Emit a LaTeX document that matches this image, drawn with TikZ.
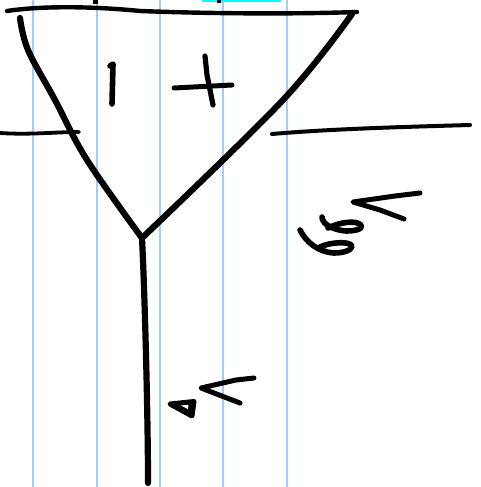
\documentclass[tikz,border=0pt]{standalone}
\usepackage{tikz}
\usetikzlibrary{positioning}
\definecolor{ruleblue}{RGB}{160,205,255}
\definecolor{marker}{RGB}{0,255,255}

\begin{document}
\begin{tikzpicture}[
    x=1pt, y=-1pt,
    ruling/.style={draw=ruleblue, line width=1.5pt},
    pen/.style={draw=black, line width=6.2pt, line cap=round, line join=round},
    thinpen/.style={draw=black, line width=4.4pt, line cap=round, line join=round},
    blob/.style={draw=black, fill=black, line width=5pt, line join=round}
]
\useasboundingbox (0,0) rectangle (481,487);

% notebook rulings
\foreach \xr in {33,97,160,223,287}
  \draw[ruling] (\xr,0) -- (\xr,487);

% highlighter mark at the top
\fill[marker] (202,0) rectangle (281,2.2);
\fill[black] (93,0) rectangle (98,4);
\fill[black] (217,0) rectangle (221,3);

% the funnel
\coordinate (tl) at (20,18);
\coordinate (tr) at (352,14);
\coordinate (vx) at (142,238);
\coordinate (ft) at (148,483);
\draw[thinpen] (7,11) .. controls (40,6) and (90,6) .. (140,11) .. controls (220,14) and (300,14) .. (357,12);
\draw[pen] plot[smooth, tension=0.6] coordinates {(tl) (28,50) (55,100) (87,160) (vx)};
\draw[pen] plot[smooth, tension=0.6] coordinates {(tr) (283,100) (vx)};
\draw[pen] (vx) .. controls (145,300) and (148,420) .. (ft);

% side rules
\draw[thinpen, line width=3.8pt] (0,133) .. controls (30,135) and (55,132) .. (79,132);
\draw[thinpen, line width=4pt] (272,134) .. controls (330,129) and (400,127) .. (470,125);

% I and +
\draw[pen, line width=5.6pt] (110,66) -- (113,64) -- (112,104);
\draw[pen, line width=5pt] (174,88) -- (232,85);
\draw[pen, line width=5.2pt] (205,56) -- (207,75) -- (213,105);

% marks beside the stem
\draw[pen, line width=5pt] (254,378) -- (236,380) -- (201,388) -- (240,403);
\draw[blob] (170,404) -- (194,401.5) -- (192,416) -- cycle;
\fill[white] (181,405.5) -- (188.5,404.8) -- (188,409) -- cycle;

% marks on the right
\draw[pen, line width=5pt] (420,193) -- (395,196) -- (353,202) -- (380,210) -- (404,219);
\draw[pen, line width=5.6pt] (322,217) .. controls (322,224) and (333,230) .. (346,231)
   .. controls (355,231) and (364,229) .. (361,225)
   .. controls (356,220) and (340,222) .. (328,228);
\draw[pen, line width=5.6pt] (300,230) .. controls (306,242) and (318,252) .. (334,253)
   .. controls (344,253) and (352,250) .. (352,246)
   .. controls (350,241) and (330,242) .. (320,247);
\end{tikzpicture}
\end{document}
